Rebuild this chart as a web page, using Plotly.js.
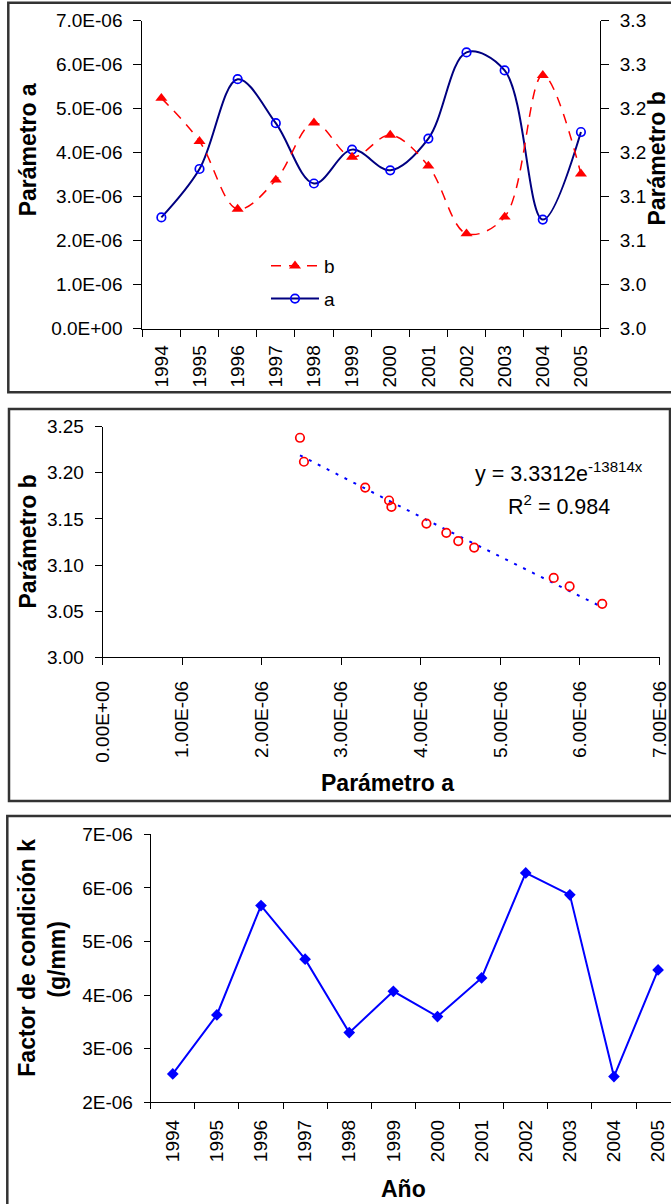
<!DOCTYPE html>
<html>
<head>
<meta charset="utf-8">
<script src="https://cdn.plot.ly/plotly-3.0.1.min.js"></script>
<style>
  html, body { margin: 0; padding: 0; background: #fff; }
  #chart { width: 671px; height: 1204px; }
</style>
</head>
<body>
<div id="chart"></div>
<script>
// ---------- data ----------
const years = ['1994','1995','1996','1997','1998','1999','2000','2001','2002','2003','2004','2005'];
const paramA = [2.53e-6, 3.63e-6, 5.67e-6, 4.67e-6, 3.30e-6, 4.07e-6, 3.60e-6, 4.32e-6, 6.28e-6, 5.87e-6, 2.48e-6, 4.47e-6];
const paramB = [3.212, 3.163, 3.086, 3.119, 3.184, 3.145, 3.170, 3.135, 3.058, 3.077, 3.238, 3.126];
const factorK = paramA; // condition factor k (g/mm) per year

// trendline shown on chart: y = 3.3312 e^(-13814 x), R^2 = 0.984
const fitCoef = 3.3312;
const fitRate = -13814;
const fitR2 = '0.984';

// tick labels
const aTickVals = [0, 1e-6, 2e-6, 3e-6, 4e-6, 5e-6, 6e-6, 7e-6];
const aTickText = ['0.0E+00','1.0E-06','2.0E-06','3.0E-06','4.0E-06','5.0E-06','6.0E-06','7.0E-06'];
const bTickVals = [2.95, 3.00, 3.05, 3.10, 3.15, 3.20, 3.25, 3.30];
const bTickText = ['3.0','3.0','3.1','3.1','3.2','3.2','3.3','3.3'];
const sxTickText = ['0.00E+00','1.00E-06','2.00E-06','3.00E-06','4.00E-06','5.00E-06','6.00E-06','7.00E-06'];
const syTickVals = [3.00, 3.05, 3.10, 3.15, 3.20, 3.25];
const syTickText = ['3.00','3.05','3.10','3.15','3.20','3.25'];
const kTickVals = [2e-6, 3e-6, 4e-6, 5e-6, 6e-6, 7e-6];
const kTickText = ['2E-06','3E-06','4E-06','5E-06','6E-06','7E-06'];

// trendline sampled at the observed a values
const fitX = paramA.slice().sort((p, q) => p - q);
const fitY = fitX.map(x => fitCoef * Math.exp(fitRate * x));

// ---------- geometry helpers (pixels -> paper) ----------
const W = 671, H = 1204;
const px = v => v / W;
const py = v => 1 - v / H;

const FONT = 'Liberation Sans, Arial, sans-serif';
const TICK = { family: FONT, size: 19, color: '#000' };
const TITLE = { family: FONT, size: 23, color: '#000' };

const traces = [
  { // b (panel 1, right axis)
    x: years, y: paramB, name: 'b', type: 'scatter', mode: 'lines+markers',
    xaxis: 'x', yaxis: 'y2', legendgroup: 'b', legendrank: 1,
    line: { color: '#FF0000', width: 1.5, dash: '10px,8px', shape: 'spline', smoothing: 1 },
    marker: { symbol: 'triangle-up', size: 10.5, color: '#FF0000' }
  },
  { // a (panel 1, left axis)
    x: years, y: paramA, name: 'a', type: 'scatter', mode: 'lines+markers',
    xaxis: 'x', yaxis: 'y', legendgroup: 'a', legendrank: 2,
    line: { color: '#000080', width: 2, shape: 'spline', smoothing: 1 },
    marker: { symbol: 'circle-open', size: 8.5, color: '#0000FF', line: { width: 1.7, color: '#0000FF' } }
  },
  { // trendline panel 2
    x: fitX, y: fitY, type: 'scatter', mode: 'lines', showlegend: false,
    xaxis: 'x2', yaxis: 'y3',
    line: { color: '#0000FF', width: 2, dash: '3px,7px' }
  },
  { // scatter panel 2
    x: paramA, y: paramB, type: 'scatter', mode: 'markers', showlegend: false,
    xaxis: 'x2', yaxis: 'y3',
    marker: { symbol: 'circle-open', size: 8.5, color: '#FF0000', line: { width: 1.7, color: '#FF0000' } }
  },
  { // panel 3
    x: years, y: factorK, type: 'scatter', mode: 'lines+markers', showlegend: false,
    xaxis: 'x3', yaxis: 'y4',
    line: { color: '#0000FF', width: 2 },
    marker: { symbol: 'diamond', size: 9, color: '#0000FF' }
  }
];

const axisBase = {
  showgrid: false, zeroline: false, showline: true, linecolor: '#000', linewidth: 1,
  ticks: 'outside', tickcolor: '#000', tickwidth: 1, tickfont: TICK, fixedrange: true,
  ticklabeloverflow: 'allow'
};

const layout = {
  width: W, height: H,
  margin: { l: 0, r: 0, t: 0, b: 0, pad: 0 },
  paper_bgcolor: '#fff', plot_bgcolor: 'rgba(0,0,0,0)',
  font: { family: FONT, color: '#000' },
  showlegend: true,
  legend: {
    x: px(266), y: py(247), xanchor: 'left', yanchor: 'top',
    bgcolor: 'rgba(0,0,0,0)', borderwidth: 0,
    font: { family: FONT, size: 19, color: '#000' },
    traceorder: 'grouped', tracegroupgap: 5, itemwidth: 48
  },
  xaxis: Object.assign({}, axisBase, {
    domain: [px(142.3), px(600)], anchor: 'y', type: 'category',
    categoryorder: 'array', categoryarray: years,
    range: [-0.5, 11.5], tickson: 'boundaries', ticklen: 7, tickangle: -90,
    ticklabelstandoff: 8
  }),
  yaxis: Object.assign({}, axisBase, {
    domain: [py(328.7), py(20.7)], anchor: 'x',
    range: [0, 7e-6], tickvals: aTickVals, ticktext: aTickText, ticklen: 8,
    ticklabelstandoff: 7
  }),
  yaxis2: Object.assign({}, axisBase, {
    overlaying: 'y', side: 'right', anchor: 'x',
    range: [2.95, 3.30], tickvals: bTickVals, ticktext: bTickText, ticklen: 8,
    ticklabelstandoff: 7
  }),
  xaxis2: Object.assign({}, axisBase, {
    domain: [px(102.7), px(659.5)], anchor: 'y3',
    range: [0, 7e-6], tickvals: aTickVals, ticktext: sxTickText, ticklen: 7, tickangle: -90,
    ticklabelstandoff: 8
  }),
  yaxis3: Object.assign({}, axisBase, {
    domain: [py(657.3), py(426.7)], anchor: 'x2',
    range: [3.00, 3.25], tickvals: syTickVals, ticktext: syTickText, ticklen: 7,
    ticklabelstandoff: 7
  }),
  xaxis3: Object.assign({}, axisBase, {
    domain: [px(150.7), 1], anchor: 'y4', type: 'category',
    categoryorder: 'array', categoryarray: years,
    range: [-0.5, -0.5 + (671 - 150.7) / 44.12], tickson: 'boundaries', ticklen: 6, tickangle: -90,
    ticklabelstandoff: 9
  }),
  yaxis4: Object.assign({}, axisBase, {
    domain: [py(1102.3), py(834.3)], anchor: 'x3',
    range: [2e-6, 7e-6], tickvals: kTickVals, ticktext: kTickText, ticklen: 6,
    ticklabelstandoff: 7
  }),
  shapes: [
    { type: 'rect', xref: 'paper', yref: 'paper', x0: px(8.3), x1: px(690), y0: py(392.3), y1: py(2.7),
      line: { color: '#333', width: 2.5 }, fillcolor: 'rgba(0,0,0,0)', layer: 'below' },
    { type: 'rect', xref: 'paper', yref: 'paper', x0: px(9), x1: px(670), y0: py(801), y1: py(409),
      line: { color: '#333', width: 2.5 }, fillcolor: 'rgba(0,0,0,0)', layer: 'below' },
    { type: 'rect', xref: 'paper', yref: 'paper', x0: px(7.3), x1: px(690), y0: py(1230), y1: py(816),
      line: { color: '#333', width: 2.5 }, fillcolor: 'rgba(0,0,0,0)', layer: 'below' }
  ],
  annotations: [
    { text: '<b>Parámetro a</b>', xref: 'paper', yref: 'paper', x: px(28.3), y: py(150),
      xanchor: 'center', yanchor: 'middle', textangle: -90, showarrow: false, font: TITLE },
    { text: '<b>Parámetro b</b>', xref: 'paper', yref: 'paper', x: px(656), y: py(158.5),
      xanchor: 'center', yanchor: 'middle', textangle: -90, showarrow: false, font: TITLE },
    { text: '<b>Parámetro b</b>', xref: 'paper', yref: 'paper', x: px(27.8), y: py(541.7),
      xanchor: 'center', yanchor: 'middle', textangle: -90, showarrow: false, font: TITLE },
    { text: '<b>Parámetro a</b>', xref: 'paper', yref: 'paper', x: px(387), y: py(783),
      xanchor: 'center', yanchor: 'middle', showarrow: false, font: TITLE },
    { text: 'y = ' + fitCoef + 'e<sup>' + fitRate + 'x</sup>', xref: 'paper', yref: 'paper', x: px(559), y: py(472),
      xanchor: 'center', yanchor: 'middle', showarrow: false, font: { family: FONT, size: 21.5, color: '#000' } },
    { text: 'R<sup>2</sup> = ' + fitR2, xref: 'paper', yref: 'paper', x: px(559), y: py(505),
      xanchor: 'center', yanchor: 'middle', showarrow: false, font: { family: FONT, size: 21.5, color: '#000' } },
    { text: '<b>Factor de condición k</b>', xref: 'paper', yref: 'paper', x: px(26.7), y: py(958),
      xanchor: 'center', yanchor: 'middle', textangle: -90, showarrow: false, font: TITLE },
    { text: '<b>(g/mm)</b>', xref: 'paper', yref: 'paper', x: px(56.7), y: py(959),
      xanchor: 'center', yanchor: 'middle', textangle: -90, showarrow: false, font: TITLE },
    { text: '<b>Año</b>', xref: 'paper', yref: 'paper', x: px(403.5), y: py(1189),
      xanchor: 'center', yanchor: 'middle', showarrow: false, font: TITLE }
  ]
};

Plotly.newPlot('chart', traces, layout, { staticPlot: true, displayModeBar: false });
</script>
</body>
</html>
